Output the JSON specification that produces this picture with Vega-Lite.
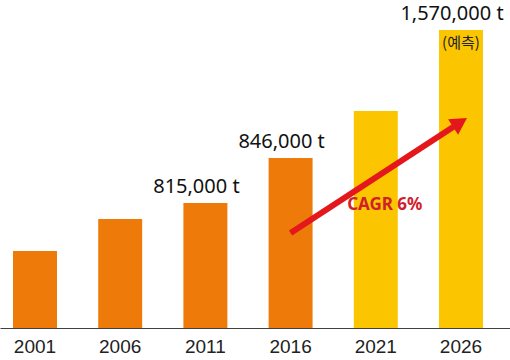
{
  "$schema": "https://vega.github.io/schema/vega-lite/v6.json",
  "width": 510,
  "height": 328,
  "autosize": {"type": "none"},
  "padding": {"left": 0, "top": 0, "right": 0, "bottom": 32},
  "background": "white",
  "config": {"view": {"stroke": null}},
  "datasets": {
    "bars": [
      {"year": "2001", "h": 77, "phase": "actual", "label": "", "note": ""},
      {"year": "2006", "h": 109, "phase": "actual", "label": "", "note": ""},
      {"year": "2011", "h": 125, "phase": "actual", "label": "815,000 t", "note": ""},
      {"year": "2016", "h": 170, "phase": "actual", "label": "846,000 t", "note": ""},
      {"year": "2021", "h": 217, "phase": "forecast", "label": "", "note": ""},
      {"year": "2026", "h": 298, "phase": "forecast", "label": "1,570,000 t", "note": "(예측)"}
    ],
    "arrow": [{"year": "2016", "v": 95, "year2": "2026", "v2": 203.5}],
    "head": [{"year": "2026", "v": 210}],
    "cagr": [{"year": "2021", "v": 123, "text": "CAGR 6%"}]
  },
  "encoding": {
    "x": {
      "field": "year",
      "type": "nominal",
      "sort": null,
      "scale": {"paddingInner": 0.484, "paddingOuter": 0.235, "align": 0.325},
      "axis": {
        "title": null,
        "labelAngle": 0,
        "ticks": false,
        "grid": false,
        "domainColor": "#404040",
        "domainWidth": 1,
        "labelFont": "Liberation Sans",
        "labelFontSize": 19,
        "labelColor": "#222222",
        "labelPadding": 9
      }
    }
  },
  "layer": [
    {
      "data": {"name": "bars"},
      "mark": {"type": "bar"},
      "encoding": {
        "y": {"field": "h", "type": "quantitative", "scale": {"domain": [0, 328], "nice": false}, "axis": null},
        "color": {
          "field": "phase",
          "type": "nominal",
          "scale": {"domain": ["actual", "forecast"], "range": ["#EE7A0A", "#FBC600"]},
          "legend": null
        }
      }
    },
    {
      "data": {"name": "bars"},
      "mark": {"type": "text", "baseline": "middle", "dy": -16, "dx": -9, "font": "Noto Sans", "fontSize": 20, "color": "#111111"},
      "encoding": {
        "y": {"field": "h", "type": "quantitative"},
        "text": {"field": "label"}
      }
    },
    {
      "data": {"name": "bars"},
      "mark": {"type": "text", "baseline": "middle", "dy": 13, "font": "Noto Sans CJK KR", "fontSize": 15, "color": "#222222"},
      "encoding": {
        "y": {"field": "h", "type": "quantitative"},
        "text": {"field": "note"}
      }
    },
    {
      "data": {"name": "arrow"},
      "mark": {"type": "rule", "color": "#E4181C", "strokeWidth": 6, "x2Offset": -4},
      "encoding": {
        "y": {"field": "v", "type": "quantitative"},
        "x2": {"field": "year2"},
        "y2": {"field": "v2"}
      }
    },
    {
      "data": {"name": "head"},
      "mark": {"type": "point", "shape": "M0,0L-1,1.8L1,1.8Z", "filled": true, "opacity": 1, "color": "#E4181C", "size": 340, "angle": 57, "xOffset": 6},
      "encoding": {
        "y": {"field": "v", "type": "quantitative"}
      }
    },
    {
      "data": {"name": "cagr"},
      "mark": {"type": "text", "baseline": "middle", "dx": 9, "font": "Noto Sans", "fontWeight": "bold", "fontSize": 17, "color": "#D0202A"},
      "encoding": {
        "y": {"field": "v", "type": "quantitative"},
        "text": {"field": "text"}
      }
    }
  ]
}
